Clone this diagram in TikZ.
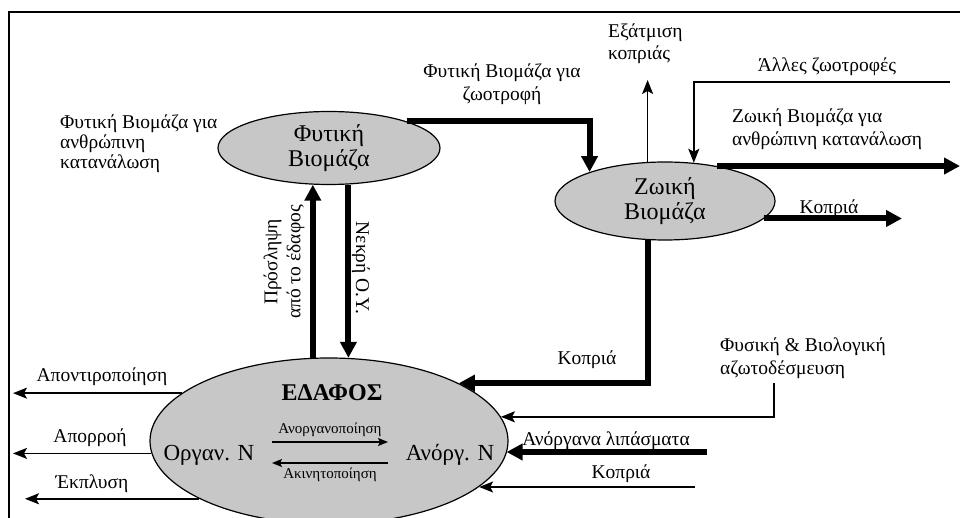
\documentclass[tikz,border=0pt]{standalone}
\usepackage{fontspec}
\setmainfont{Liberation Serif}
\usetikzlibrary{arrows.meta,shapes.geometric}
\begin{document}
\begin{tikzpicture}[x=1pt,y=-1pt,
 bubble/.style={ellipse, draw=black, line width=1.2pt, fill=black!22, inner sep=0pt, align=center, font=\fontsize{24}{25}\selectfont},
 lbl/.style={font=\fontsize{19.5}{23}\selectfont, inner sep=0pt, align=left},
 inlbl/.style={font=\fontsize{23}{25}\selectfont, inner sep=0pt},
 tiny/.style={font=\fontsize{15}{17}\selectfont, inner sep=0pt},
 flow/.style={line width=1.6pt, -{Stealth[length=14pt,width=11pt,inset=3pt]}},
 miniflow/.style={line width=1.4pt, -{Stealth[length=10pt,width=8pt,inset=2pt]}},
 bigflow/.style={line width=6pt, -{Triangle[length=16pt,width=16pt]}},
]
\useasboundingbox (0,0) rectangle (960,518);
% frame
\draw[line width=1.5pt] (9,520) -- (9,12) -- (962,12);

% main ellipses
\node[bubble, minimum width=222pt, minimum height=73pt] (plant) at (329,148) {Φυτική\\Βιομάζα};
\node[bubble, minimum width=220pt, minimum height=78pt] (animal) at (665,201) {Ζωική\\Βιομάζα};
\node[bubble, minimum width=358pt, minimum height=166pt] (soil) at (329,441) {};

% text inside soil
\node[inlbl, font=\fontsize{24}{25}\selectfont\bfseries] (soilT) at (332,393) {ΕΔΑΦΟΣ};
\node[inlbl] (orgN) at (209,455) {Οργαν. Ν};
\node[inlbl] (inorgN) at (450,455) {Ανόργ. Ν};
\draw[miniflow] ([shift={(-57,1)}]soil.center) -- ([shift={(59,1)}]soil.center)
  node[tiny, midway, above=12pt, anchor=center] (minLbl) {Ανοργανοποίηση};
\draw[miniflow] ([shift={(59,22)}]soil.center) -- ([shift={(-57,22)}]soil.center)
  node[tiny, midway, below=12pt, anchor=center] (immLbl) {Ακινητοποίηση};

% free end coordinates
\coordinate (evapEnd) at (648,80);
\coordinate (otherStart) at (950,82);
\coordinate (foodEnd) at (960,163);
\coordinate (manureEnd) at (902,220);
\coordinate (fixStart) at (774,383);
\coordinate (fertStart) at (707,452);
\coordinate (man2Start) at (695,487);
\coordinate (apoEnd) at (13,393);
\coordinate (runEnd) at (13,452);
\coordinate (leachEnd) at (25,498);

% plant <-> soil
\draw[bigflow] (soil.101) -- (soil.101 |- plant.246);
\draw[bigflow] (plant.298) -- (plant.298 |- soil.77);
\node[lbl, rotate=90, align=center] (uptakeLbl) at (284,262) {Πρόσληψη\\από το έδαφος};
\node[lbl, rotate=-90] (deadLbl) at (361,268) {Νεκρή Ο.Υ.};

% plant -> animal
\draw[bigflow] (plant.19) -| (animal.159);
\node[lbl, align=center] (feedLbl) at (502,84) {Φυτική Βιομάζα για\\ζωοτροφή};

% plant human consumption label
\node[lbl, anchor=west, font=\fontsize{19.5}{20}\selectfont] (plantHum) at (60,144) {Φυτική Βιομάζα για\\ανθρώπινη\\κατανάλωση};

% evaporation
\draw[flow] (animal.114) -- (animal.114 |- evapEnd);
\node[lbl, anchor=west, font=\fontsize{19.5}{22}\selectfont] (evapLbl) at (608,44) {Εξάτμιση\\κοπριάς};

% other feeds
\draw[flow] (otherStart) -| (animal.53);
\node[lbl] (otherLbl) at (827,67) {Άλλες ζωοτροφές};

% animal human consumption
\draw[bigflow] (animal.34) -- (animal.34 -| foodEnd);
\node[lbl, anchor=west] (animHum) at (732,129) {Ζωική Βιομάζα για\\ανθρώπινη κατανάλωση};

% manure right
\draw[bigflow] (animal.-10) -- (animal.-10 -| manureEnd);
\node[lbl] (manLbl) at (829,209) {Κοπριά};

% manure to soil
\draw[bigflow] (animal.246) |- (soil.24);
\node[lbl] (man3Lbl) at (587,360) {Κοπριά};

% fixation
\draw[flow] (fixStart) |- (soil.8);
\node[lbl, anchor=west] (fixLbl) at (720,358) {Φυσική \& Βιολογική\\αζωτοδέσμευση};

% fertilizers
\draw[bigflow] (fertStart) -- (fertStart -| soil.-4);
\node[lbl] (fertLbl) at (606,441) {Ανόργανα λιπάσματα};

% manure bottom
\draw[flow] (man2Start) -- (man2Start -| soil.-17);
\node[lbl] (man2Lbl) at (621,474) {Κοπριά};

% losses
\draw[flow] (soil.162) -- (soil.162 -| apoEnd);
\node[lbl] (apoLbl) at (102,377) {Αποντιροποίηση};
\draw[flow] (soil.184) -- (soil.184 -| runEnd);
\node[lbl] (runLbl) at (90,438) {Απορροή};
\draw[flow] (soil.204) -- (soil.204 -| leachEnd);
\node[lbl] (leachLbl) at (92,484) {Έκπλυση};
\end{tikzpicture}
\end{document}
